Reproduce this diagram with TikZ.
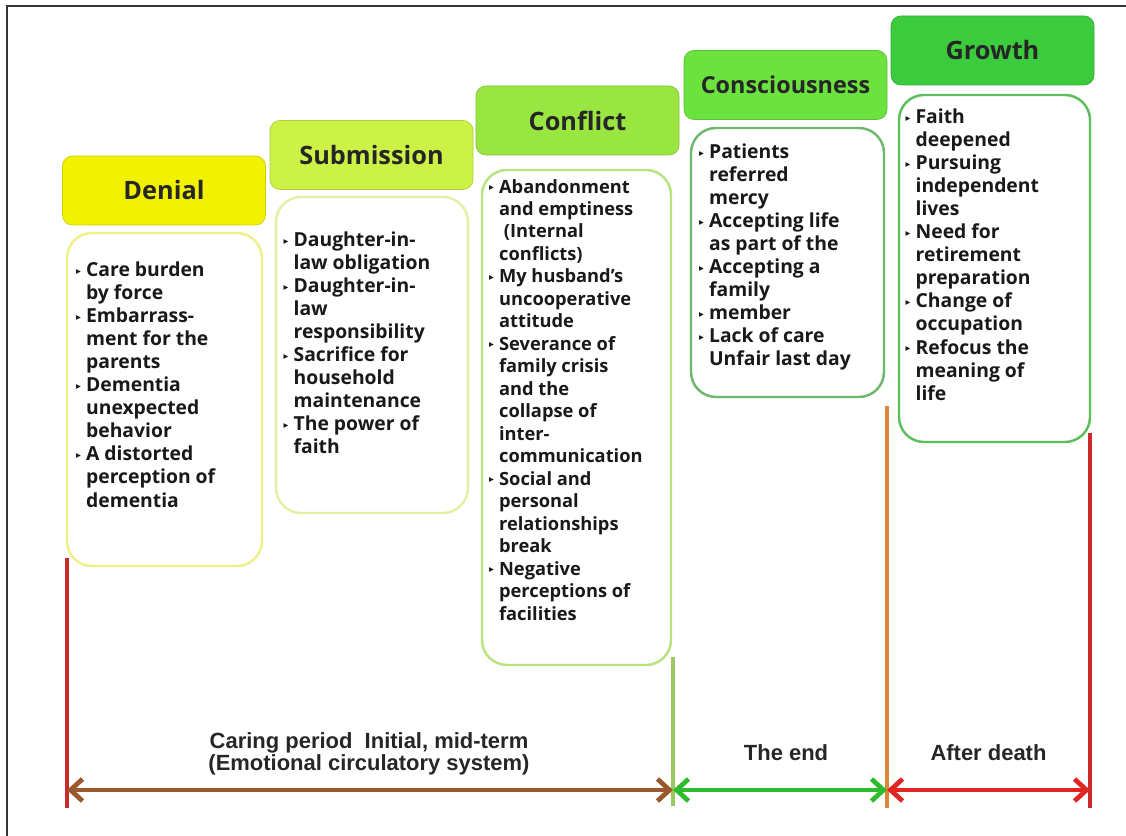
\documentclass[tikz,border=0pt]{standalone}
\usepackage{fontspec}
\setmainfont{Open Sans}
\newfontfamily\symfont{DejaVu Sans}
\newfontfamily\lblfont{Liberation Sans}
\usetikzlibrary{arrows.meta,positioning}

\definecolor{denialfill}{HTML}{F2F200}
\definecolor{submitfill}{HTML}{CCF245}
\definecolor{conflictfill}{HTML}{9AE640}
\definecolor{consciousfill}{HTML}{6BE23E}
\definecolor{growthfill}{HTML}{3CCB3C}
\definecolor{denialline}{HTML}{EEF088}
\definecolor{submitline}{HTML}{E2F0A4}
\definecolor{conflictline}{HTML}{B6E47E}
\definecolor{consciousline}{HTML}{6DB86D}
\definecolor{growthline}{HTML}{5DBE5D}
\definecolor{redline}{HTML}{CC2B2B}
\definecolor{oliveline}{HTML}{9CC860}
\definecolor{orangeline}{HTML}{DE873A}
\definecolor{brownarr}{HTML}{99592A}
\definecolor{greenarr}{HTML}{2EBB2E}
\definecolor{redarr}{HTML}{E02525}

\newcommand{\pbul}{\makebox[0.2cm][l]{\raisebox{0.25ex}{\symfont\fontsize{5.5}{5.5}\selectfont ▸}}}
\newcommand{\pind}{\hspace*{0.2cm}}

\begin{document}
\begin{tikzpicture}[
    head/.style={rectangle, rounded corners=0.2cm, minimum width=4.06cm, minimum height=1.38cm,
                 font=\fontsize{14.4}{17}\selectfont\bfseries, text=black!85},
    body/.style={rectangle, rounded corners=0.5cm, line width=1.4pt, fill=white},
    itm/.style={anchor=north west, align=left, inner sep=0pt,
                font=\fontsize{11}{13.1}\selectfont\bfseries, text=black!90},
    vline/.style={line width=1.8pt},
    spanarr/.style={{Straight Barb[length=2.4mm,width=4.4mm]}-{Straight Barb[length=2.4mm,width=4.4mm]},
                    line width=2.7pt},
    perlbl/.style={font=\lblfont\bfseries\fontsize{12.5}{12.8}\selectfont, align=center, text=black!85}
]
\useasboundingbox (0,0) rectangle (22.52,16.72);

% ---- Frame ----
\draw[line width=1.2pt, black!80] (0.14,0) -- (0.14,16.6) -- (22.52,16.6);

% ---- Stage headers ----
\node[head, fill=denialfill, draw=denialfill!85!black] (denial) at (3.28,12.91) {Denial};
\node[head, fill=submitfill, draw=submitfill!85!black] (submit) at (7.43,13.62) {Submission};
\node[head, fill=conflictfill, draw=conflictfill!85!black] (conflict) at (11.55,14.31) {Conflict};
\node[head, fill=consciousfill, draw=consciousfill!85!black, font=\fontsize{13.3}{16}\selectfont\bfseries] (conscious) at (15.71,15.02) {Consciousness};
\node[head, fill=growthfill, draw=growthfill!85!black] (growth) at (19.85,15.71) {Growth};

% ---- Denial ----
\node[body, draw=denialline, minimum width=3.9cm, minimum height=6.66cm] (denialbox) at (3.29,8.73) {};
\node[itm] (denialtxt) at ([xshift=0.2cm, yshift=-0.6cm]denialbox.north west)
    {\pbul Care burden\\\pind by force\\\pbul Embarrass-\\\pind ment for the\\\pind parents\\
     \pbul Dementia\\\pind unexpected\\\pind behavior\\\pbul A distorted\\\pind perception of\\\pind dementia};

% ---- Submission ----
\node[body, draw=submitline, minimum width=3.84cm, minimum height=6.32cm] (submitbox) at (7.44,9.62) {};
\node[itm] (submittxt) at ([xshift=0.17cm, yshift=-0.72cm]submitbox.north west)
    {\pbul Daughter-in-\\\pind law obligation\\\pbul Daughter-in-\\\pind law\\\pind responsibility\\
     \pbul Sacrifice for\\\pind household\\\pind maintenance\\\pbul The power of\\\pind faith};

% ---- Conflict ----
\node[body, draw=conflictline, minimum width=3.78cm, minimum height=9.9cm] (conflictbox) at (11.53,8.37) {};
\node[itm, font=\fontsize{10.4}{12.8}\selectfont\bfseries] (conflicttxt) at ([xshift=0.16cm, yshift=-0.2cm]conflictbox.north west)
    {\pbul Abandonment\\\pind and emptiness\\\pind\ (Internal\\\pind conflicts)\\
     \pbul My husband’s\\\pind uncooperative\\\pind attitude\\
     \pbul Severance of\\\pind family crisis\\\pind and the\\\pind collapse of\\\pind inter-\\\pind communication\\
     \pbul Social and\\\pind personal\\\pind relationships\\\pind break\\
     \pbul Negative\\\pind perceptions of\\\pind facilities};

% ---- Consciousness ----
\node[body, draw=consciousline, minimum width=3.86cm, minimum height=5.38cm] (consciousbox) at (15.75,11.47) {};
\node[itm] (conscioustxt) at ([xshift=0.18cm, yshift=-0.34cm]consciousbox.north west)
    {\pbul Patients\\\pind referred\\\pind mercy\\\pbul Accepting life\\\pind as part of the\\
     \pbul Accepting a\\\pind family\\\pbul member\\\pbul Lack of care\\\pind Unfair last day};

% ---- Growth ----
\node[body, draw=growthline, minimum width=3.82cm, minimum height=6.94cm] (growthbox) at (19.89,11.35) {};
\node[itm] (growthtxt) at ([xshift=0.15cm, yshift=-0.3cm]growthbox.north west)
    {\pbul Faith\\\pind deepened\\\pbul Pursuing\\\pind independent\\\pind lives\\
     \pbul Need for\\\pind retirement\\\pind preparation\\\pbul Change of\\\pind occupation\\
     \pbul Refocus the\\\pind meaning of\\\pind life};

% ---- Period borders ----
\coordinate (b0top) at (1.34,5.56);   \coordinate (b0) at (1.34,0.56);
\coordinate (b1top) at (13.46,3.58);  \coordinate (b1) at (13.46,0.60);
\coordinate (b2top) at (17.74,8.6);   \coordinate (b2) at (17.74,0.56);
\coordinate (b3top) at (21.8,8.06);   \coordinate (b3) at (21.8,0.56);
\draw[vline, redline] (b0top) -- (b0);
\draw[vline, oliveline] (b1top) -- (b1);
\draw[vline, orangeline] (b2top) -- (b2);
\draw[vline, redline] (b3top) -- (b3);

% ---- Period arrows ----
\coordinate (a0) at (1.34,0.92);
\coordinate (a1) at (13.46,0.92);
\coordinate (a2) at (17.74,0.92);
\coordinate (a3) at (21.8,0.92);
\draw[spanarr, brownarr] (a0) -- (a1);
\draw[spanarr, greenarr] (a1) -- (a2);
\draw[spanarr, redarr] (a2) -- (a3);

% ---- Period labels ----
\node[perlbl] (caring) at (7.38,1.64) {Caring period\ \ Initial, mid-term\\(Emotional circulatory system)};
\node[perlbl] (theend) at (15.72,1.66) {The end};
\node[perlbl] (afterdeath) at (19.77,1.66) {After death};

\end{tikzpicture}
\end{document}
